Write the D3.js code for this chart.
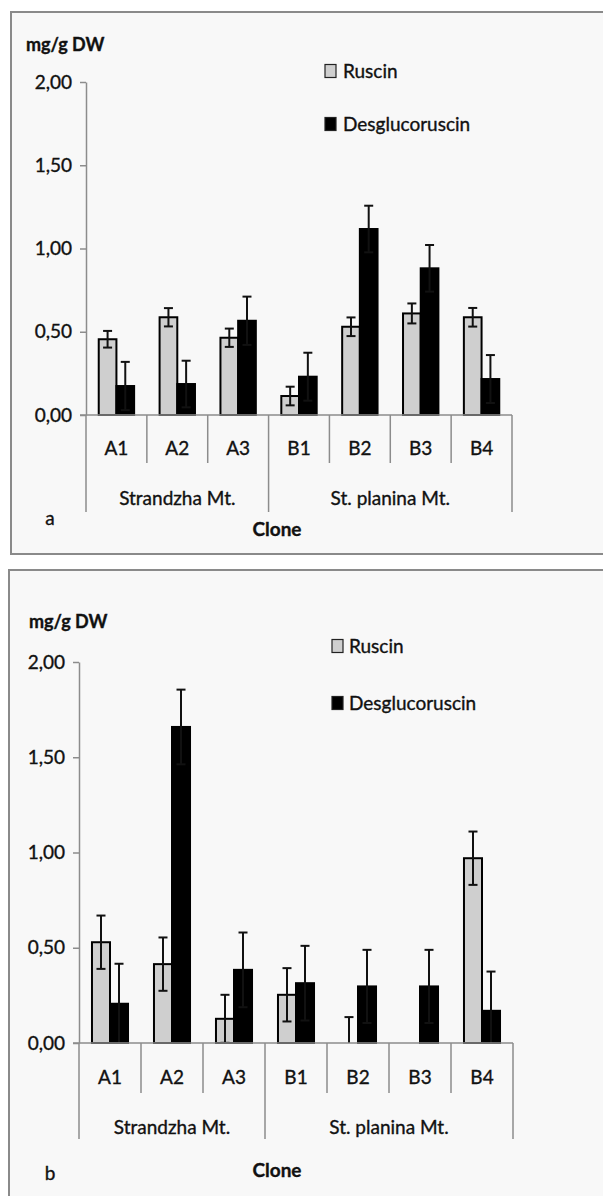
<!DOCTYPE html>
<html><head><meta charset="utf-8">
<script src="https://cdn.jsdelivr.net/npm/d3@7"></script>
<style>body{margin:0;background:#fff} svg{display:block} text{stroke:#111;stroke-width:0.35px;paint-order:stroke}</style>
</head><body><svg id="c" width="603" height="1196"></svg>
<script>
// ---- data ----
const categories = ["A1","A2","A3","B1","B2","B3","B4"];
const groupNames = ["Strandzha Mt.","St. planina Mt."];
const groupSizes = [3,4];
const seriesNames = ["Ruscin","Desglucoruscin"];
const yTickValues = [0,0.5,1,1.5,2];
const yLabel = "mg/g DW";
const xTitle = "Clone";
const ruscinA    = [0.455,0.587,0.464,0.114,0.530,0.610,0.587];
const ruscinErrA = [0.050,0.055,0.055,0.056,0.056,0.060,0.056];
const desgA      = [0.174,0.186,0.566,0.230,1.117,0.881,0.216];
const desgErrA   = [0.145,0.140,0.145,0.144,0.140,0.140,0.144];
const ruscinB    = [0.529,0.414,0.127,0.253,0.000,0.000,0.970];
const ruscinErrB = [0.140,0.140,0.126,0.140,0.136,0.000,0.140];
const desgB      = [0.206,1.659,0.384,0.314,0.297,0.297,0.169];
const desgErrB   = [0.210,0.196,0.196,0.196,0.192,0.192,0.206];

// ---- layout ----
const panels = [
  {tag:"a", values:[ruscinA,desgA], errs:[ruscinErrA,desgErrA],
   border:{x:11,y:12,w:600,h:542}, x0:86, x1:512, yTop:82, yZero:415,
   catY:448, shortY:463, longY:512, groupY:498, titleY:529, tagX:50, tagY:518,
   ylabX:26, ylabY:45, legX:325, legY:[71,124], legTx:343},
  {tag:"b", values:[ruscinB,desgB], errs:[ruscinErrB,desgErrB],
   border:{x:9,y:570,w:600,h:640}, x0:79, x1:513, yTop:662, yZero:1043,
   catY:1077, shortY:1093, longY:1139, groupY:1127, titleY:1170, tagX:50, tagY:1173,
   ylabX:29, ylabY:622, legX:332, legY:[646,703], legTx:349}
];
const FONT = "Lato, 'Open Sans', sans-serif";
const fills = ["#cfcfcf","#000000"];
const axisCol = "#8c8c8c";
const txtCol = "#111";

const svg = d3.select("#c");
const fmt = v => d3.format(".2f")(v).replace(".", ",");

panels.forEach(p => {
  const g = svg.append("g");
  g.append("rect").attr("x",p.border.x).attr("y",p.border.y)
    .attr("width",p.border.w).attr("height",p.border.h)
    .attr("fill","#f8f8f8").attr("stroke","#8a8a8a").attr("stroke-width",2);

  const y = d3.scaleLinear().domain([0,2]).range([p.yZero,p.yTop]);
  const x = d3.scaleBand().domain(categories).range([p.x0,p.x1]).paddingInner(0).paddingOuter(0);
  const xs = d3.scaleBand().domain(seriesNames).range([0,x.bandwidth()]).paddingInner(0).paddingOuter(0.72);

  // y axis
  const ya = g.append("g").attr("transform",`translate(${p.x0},0)`)
    .call(d3.axisLeft(y).tickValues(yTickValues).tickFormat(fmt).tickSize(6).tickSizeOuter(0).tickPadding(8));
  ya.select(".domain").attr("stroke",axisCol).attr("stroke-width",1.5);
  ya.selectAll(".tick line").attr("stroke",axisCol).attr("stroke-width",1.5);
  ya.selectAll(".tick text").attr("font-family",FONT).attr("font-size",19).attr("fill",txtCol);

  // bars
  seriesNames.forEach((s,si) => {
    const vals = p.values[si], errs = p.errs[si];
    g.append("g").selectAll("rect").data(categories).join("rect")
      .attr("x", (c)=>x(c)+xs(s))
      .attr("width", xs.bandwidth())
      .attr("y", (c,i)=>y(vals[i]))
      .attr("height", (c,i)=>y(0)-y(vals[i]))
      .attr("fill", fills[si]).attr("stroke","#000").attr("stroke-width",2)
      .attr("display",(c,i)=>vals[i]>0?null:"none");
    const eg = g.append("g").attr("stroke","#111").attr("stroke-width",2);
    categories.forEach((c,i) => {
      if (errs[i] <= 0) return;
      const cx = x(c)+xs(s)+xs.bandwidth()/2;
      const hi = vals[i]+errs[i], lo = Math.max(0, vals[i]-errs[i]);
      eg.append("line").attr("x1",cx).attr("x2",cx).attr("y1",y(hi)).attr("y2",y(lo));
      eg.append("line").attr("x1",cx-4.5).attr("x2",cx+4.5).attr("y1",y(hi)).attr("y2",y(hi));
      if (lo > 0) eg.append("line").attr("x1",cx-4.5).attr("x2",cx+4.5).attr("y1",y(lo)).attr("y2",y(lo));
    });
  });

  // x axis
  const xa = g.append("g").attr("stroke",axisCol).attr("stroke-width",1.5);
  xa.append("line").attr("x1",p.x0-6).attr("x2",p.x1).attr("y1",p.yZero).attr("y2",p.yZero);
  const bounds = [0];
  groupSizes.reduce((a,n)=>{bounds.push(a+n);return a+n;},0);
  d3.range(categories.length+1).forEach(k => {
    const xx = k < categories.length ? x(categories[k]) : p.x1;
    const isLong = bounds.includes(k);
    xa.append("line").attr("x1",xx).attr("x2",xx).attr("y1",p.yZero).attr("y2",isLong?p.longY:p.shortY);
  });
  g.append("g").selectAll("text").data(categories).join("text")
    .attr("x",c=>x(c)+x.bandwidth()/2).attr("y",p.catY).attr("dy","0.35em")
    .attr("text-anchor","middle").attr("font-family",FONT).attr("font-size",19).attr("fill",txtCol)
    .text(c=>c);
  let start = 0;
  groupNames.forEach((gn,gi) => {
    const a = x(categories[start]);
    const e = start+groupSizes[gi] < categories.length ? x(categories[start+groupSizes[gi]]) : p.x1;
    g.append("text").attr("x",(a+e)/2).attr("y",p.groupY).attr("dy","0.35em")
      .attr("text-anchor","middle").attr("font-family",FONT).attr("font-size",19).attr("fill",txtCol).text(gn);
    start += groupSizes[gi];
  });
  g.append("text").attr("x",277).attr("y",p.titleY).attr("dy","0.35em").attr("text-anchor","middle")
    .attr("font-family",FONT).attr("font-size",19).attr("font-weight","bold").attr("fill",txtCol).text(xTitle);
  g.append("text").attr("x",p.tagX).attr("y",p.tagY).attr("dy","0.35em").attr("text-anchor","middle")
    .attr("font-family",FONT).attr("font-size",19).attr("fill",txtCol).text(p.tag);
  g.append("text").attr("x",p.ylabX).attr("y",p.ylabY).attr("dy","0.35em")
    .attr("font-family",FONT).attr("font-size",18).attr("font-weight","bold").attr("fill",txtCol).text(yLabel);

  // legend
  seriesNames.forEach((s,si) => {
    g.append("rect").attr("x",p.legX).attr("y",p.legY[si]-6.5).attr("width",11).attr("height",13)
      .attr("fill",fills[si]).attr("stroke","#222").attr("stroke-width",1.2);
    g.append("text").attr("x",p.legTx).attr("y",p.legY[si]).attr("dy","0.35em")
      .attr("font-family",FONT).attr("font-size",19).attr("fill",txtCol).text(s);
  });
});
</script></body></html>
